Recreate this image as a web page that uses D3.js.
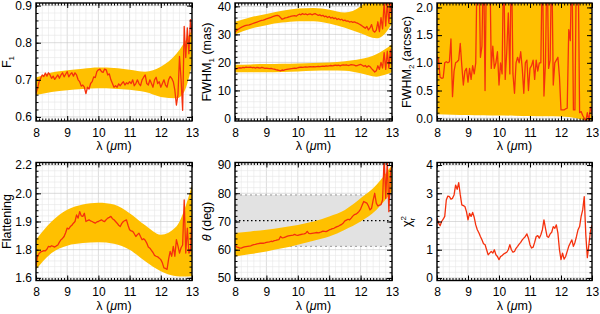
<!DOCTYPE html>
<html>
<head>
<meta charset="utf-8">
<script src="https://cdn.jsdelivr.net/npm/d3@7"></script>
<style>
  body { margin: 0; background: #fff; }
  text { font-family: "Liberation Sans", Arial, sans-serif; fill: #000; }
</style>
</head>
<body>
<svg id="chart" width="600" height="314"></svg>
<script>
// wavelength grid of the spectra (micron)
const lam = d3.range(0, 101).map(i => +(8 + i * 0.05).toFixed(2));
const bandLam = [8, 8.5, 9, 9.5, 10, 10.5, 11, 11.5, 12, 12.5, 12.75, 13];

const f1 = [0.663,0.677,0.695,0.704,0.713,0.709,0.718,0.710,0.719,0.713,
  0.704,0.710,0.701,0.707,0.713,0.704,0.713,0.719,0.708,0.715,
  0.722,0.708,0.715,0.719,0.710,0.719,0.713,0.700,0.695,0.683,
  0.686,0.680,0.663,0.680,0.675,0.690,0.695,0.708,0.706,0.722,
  0.727,0.729,0.722,0.720,0.729,0.727,0.713,0.716,0.700,0.690,
  0.680,0.684,0.680,0.689,0.684,0.690,0.695,0.686,0.692,0.689,
  0.695,0.690,0.700,0.684,0.690,0.700,0.690,0.684,0.700,0.707,
  0.713,0.690,0.686,0.700,0.690,0.680,0.700,0.707,0.690,0.695,
  0.680,0.690,0.700,0.686,0.680,0.700,0.709,0.704,0.695,0.672,
  0.632,0.660,0.763,0.700,0.618,0.844,0.760,0.840,0.770,0.862,0.825];
const f1Hi = [0.706,0.720,0.726,0.730,0.733,0.732,0.727,0.722,0.735,0.770,0.800,0.835];
const f1Lo = [0.659,0.667,0.672,0.675,0.677,0.676,0.673,0.667,0.654,0.650,0.668,0.740];

const fwhm1a = [30.8,31.3,31.8,32.2,32.5,32.8,33.0,33.2,33.3,33.4,
  33.6,33.8,34.0,34.2,34.4,34.6,34.8,35.0,35.1,35.3,
  35.5,35.7,35.9,36.1,36.3,36.5,36.7,36.8,36.6,36.0,
  35.4,35.6,35.9,36.0,36.2,36.3,36.5,36.6,36.7,36.5,
  36.9,37.2,37.0,37.4,37.1,37.3,37.0,37.2,37.3,37.0,
  37.2,37.4,37.1,36.8,37.0,36.6,36.8,36.3,36.5,36.0,
  36.4,35.8,36.1,35.6,35.9,35.3,35.6,35.2,35.4,34.9,
  35.1,34.7,34.8,34.4,34.6,34.3,34.5,34.2,34.0,33.7,
  33.4,33.0,32.6,32.2,32.8,31.6,32.3,33.5,31.3,30.8,
  31.5,34.5,31.0,36.0,32.0,41.5,33.0,41.5,34.0,41.5,36.0];
const fwhm1aHi = [34.5,36.1,37.3,38.4,39.2,39.4,38.8,37.8,40.0,48,50,52];
const fwhm1aLo = [30.0,32.0,33.3,34.2,34.7,34.7,33.9,32.4,30.4,28.6,30.0,34.0];

const fwhm1b = [17.5,17.7,18.0,18.1,18.0,18.2,18.1,18.3,18.2,18.2,
  18.3,18.1,18.2,18.0,18.2,18.1,18.0,18.2,18.1,17.9,
  18.0,17.9,17.8,17.9,17.7,17.6,17.4,17.3,17.2,17.0,
  17.3,17.2,17.4,17.5,17.6,17.7,17.8,17.9,18.0,17.9,
  18.1,18.2,18.3,18.2,18.3,18.4,18.3,18.4,18.5,18.4,
  18.5,18.4,18.5,18.6,18.5,18.6,18.7,18.6,18.8,18.7,
  18.8,18.9,18.8,18.9,19.0,18.9,19.0,18.8,19.0,19.1,
  19.0,19.1,18.9,19.0,19.2,19.1,19.0,18.8,18.9,19.1,
  19.3,19.0,18.6,18.9,18.3,18.8,18.5,17.8,17.2,16.6,
  17.0,18.8,17.5,20.0,18.0,23.5,17.5,24.0,18.0,24.5,19.0];
const fwhm1bHi = [19.2,19.3,19.4,19.5,19.6,19.8,20.0,20.4,21.2,22.9,24.5,26.5];
const fwhm1bLo = [16.5,16.5,16.5,16.6,16.8,17.0,17.1,17.0,16.1,14.9,15.5,16.5];

const fwhm2 = [1.13,1.05,0.74,0.72,0.73,1.00,1.02,1.00,1.02,1.43,
  0.39,0.85,1.00,1.02,1.05,1.35,0.95,0.60,0.85,0.90,
  0.65,0.90,0.70,0.95,0.80,1.00,3.00,3.00,1.10,1.30,
  3.00,0.50,3.00,3.00,3.00,0.90,1.30,0.90,1.00,1.20,
  0.60,1.00,0.80,3.00,0.70,1.20,1.90,0.80,3.00,0.80,
  0.45,1.00,1.10,1.00,1.20,0.90,0.45,1.00,1.05,0.50,
  0.90,0.95,1.05,0.70,1.05,0.85,1.00,1.00,3.00,0.40,
  1.00,3.00,0.90,1.05,3.00,0.60,1.00,1.05,1.10,0.75,
  0.15,0.15,0.15,0.17,0.18,1.60,1.40,3.00,0.15,0.15,
  3.00,3.00,0.10,0.12,0.05,0.00,-0.05,0.10,-0.05,0.20,0.10];
const fwhm2Hi = [3,3,3,3,3,3,3,3,3,3,3,3];
const fwhm2Lo = [0.07,0.065,0.06,0.055,0.05,0.045,0.04,0.035,0.03,0.0,-0.03,-0.03];

const flat = [1.662,1.715,1.730,1.738,1.741,1.745,1.744,1.752,1.768,1.765,
  1.771,1.768,1.764,1.770,1.775,1.790,1.803,1.810,1.820,1.840,
  1.865,1.860,1.873,1.880,1.891,1.900,1.935,1.918,1.953,1.930,
  1.927,1.944,1.900,1.905,1.909,1.903,1.900,1.895,1.891,1.898,
  1.900,1.905,1.909,1.902,1.900,1.910,1.918,1.922,1.927,1.915,
  1.909,1.900,1.891,1.880,1.873,1.890,1.900,1.905,1.909,1.880,
  1.856,1.850,1.847,1.835,1.820,1.830,1.838,1.820,1.803,1.808,
  1.800,1.785,1.764,1.758,1.746,1.735,1.720,1.715,1.712,1.705,
  1.697,1.680,1.653,1.650,1.645,1.700,1.741,1.715,1.768,1.715,
  1.803,1.770,1.732,1.760,1.775,2.015,1.732,1.865,1.732,1.745,1.918];
const flatHi = [1.803,1.900,1.962,1.990,2.000,1.990,1.944,1.880,1.830,1.874,1.960,2.094];
const flatLo = [1.644,1.732,1.771,1.785,1.789,1.782,1.750,1.688,1.635,1.609,1.607,1.609];
const flatTicks = [1.6, 1.75, 1.9, 2.05, 2.2];
const flatTickLabels = ["1.6", "1.8", "1.9", "2.0", "2.2"];

const theta = [61.8,61.0,60.8,60.6,60.6,60.8,61.0,61.1,61.2,61.3,
  61.4,61.6,61.8,61.9,62.1,62.2,62.3,62.3,62.3,62.4,
  62.6,62.7,62.8,63.0,62.9,63.2,63.3,63.5,63.6,64.7,
  64.2,64.3,64.5,64.7,64.9,65.0,65.1,65.2,65.4,65.2,
  65.1,65.3,65.4,65.5,65.6,65.8,66.5,65.8,65.7,65.8,
  65.9,66.0,66.1,66.0,66.1,66.3,66.6,66.5,66.4,66.7,
  67.0,67.2,67.5,67.6,67.9,68.2,68.4,68.7,69.0,69.5,
  70.2,70.5,70.8,70.6,71.2,71.9,72.4,72.6,73.0,73.6,
  74.4,75.8,77.1,76.8,76.5,75.5,74.1,74.7,77.6,80.0,
  76.5,75.5,75.8,76.0,77.6,93.0,78.2,91.5,73.5,87.0,90.0];
const thetaHi = [65.9,66.5,67.1,67.9,68.8,70.0,71.8,74.1,78.2,82.9,86.3,90.0];
const thetaLo = [57.6,58.5,59.4,60.5,61.8,63.2,64.7,67.1,70.0,74.1,77.2,80.6];
const thetaMean = 70.3;
const thetaRange = [61.2, 79.4];

const chi2 = [2.12,1.94,1.85,2.00,2.08,2.18,2.76,2.90,2.88,2.79,
  2.82,2.94,3.29,3.14,3.38,2.95,2.59,2.56,2.53,2.35,
  2.06,2.29,2.18,2.32,2.15,1.88,1.71,1.60,1.47,1.35,
  1.21,1.18,1.00,0.82,0.88,0.94,0.88,1.00,0.82,0.76,
  0.65,0.76,0.79,0.85,0.88,0.91,1.00,1.18,1.00,0.91,
  0.94,1.05,1.12,1.20,1.26,1.35,1.41,1.47,1.56,1.41,
  1.18,1.06,1.09,1.26,1.47,1.50,1.41,1.53,1.71,2.06,
  1.76,1.47,1.44,1.56,1.62,1.82,1.76,1.88,1.59,1.00,
  0.65,0.88,0.67,0.76,0.94,1.12,1.24,1.35,1.12,1.26,
  1.47,1.71,1.82,2.18,2.41,2.88,1.53,0.72,1.18,1.65,1.88];

const xTicks = [8, 9, 10, 11, 12, 13];

const RED = "#f5300c", GOLD = "#ffc000";
const cols = [[36, 192], [235, 392], [437, 592]];
const rows = [[3, 121], [162.5, 280.5]];
const svg = d3.select("#chart");

function band(g, x, y, hi, lo) {
  const area = d3.area()
    .x((d, i) => x(bandLam[i]))
    .y0((d, i) => y(lo[i]))
    .y1((d, i) => y(hi[i]))
    .curve(d3.curveMonotoneX);
  g.append("path").datum(bandLam).attr("d", area).attr("fill", GOLD);
}

function line(g, x, y, vals) {
  const ln = d3.line().x((d, i) => x(lam[i])).y(d => y(d));
  g.append("path").datum(vals).attr("d", ln)
    .attr("fill", "none").attr("stroke", RED).attr("stroke-width", 1.3)
    .attr("stroke-linejoin", "round");
}

function panel(o) {
  const [x0, x1] = cols[o.col], [y0, y1] = rows[o.row];
  const x = d3.scaleLinear().domain([8, 13]).range([x0, x1]);
  const y = d3.scaleLinear().domain(o.yDom).range([y1, y0]);
  const id = "clip" + o.col + o.row;
  svg.append("clipPath").attr("id", id).append("rect")
    .attr("x", x0).attr("y", y0).attr("width", x1 - x0).attr("height", y1 - y0);

  // grid
  const grid = svg.append("g").attr("stroke-width", 0.6);
  const xMinor = d3.range(8, 13.001, 0.2);
  const yMinor = d3.range(o.yTicks[0], o.yTicks[o.yTicks.length - 1] + 1e-6, o.yMinor);
  grid.selectAll(".gx").data(xMinor).join("line")
    .attr("x1", d => x(d)).attr("x2", d => x(d)).attr("y1", y0).attr("y2", y1)
    .attr("stroke", d => Math.abs(d - Math.round(d)) < 1e-6 ? "#c4c4c4" : "#e6e6e6");
  grid.selectAll(".gy").data(yMinor).join("line")
    .attr("y1", d => y(d)).attr("y2", d => y(d)).attr("x1", x0).attr("x2", x1)
    .attr("stroke", d => o.yTicks.some(t => Math.abs(t - d) < 1e-6) ? "#c4c4c4" : "#e6e6e6");

  const g = svg.append("g").attr("clip-path", `url(#${id})`);
  o.draw(g, x, y);

  // frame ticks
  const fs = 12;
  const styleAxis = a => {
    a.select(".domain").remove();
    a.selectAll("line").attr("stroke", "#000").attr("stroke-width", 1);
    a.selectAll("text").attr("font-size", fs).attr("font-family", '"Liberation Sans", Arial, sans-serif');
  };
  const xMinorTicks = d3.range(8, 13.001, 0.1);
  svg.append("g").attr("transform", `translate(0,${y1})`)
    .call(d3.axisBottom(x).tickValues(xTicks).tickSize(-5).tickPadding(7).tickFormat(d3.format("d"))).call(styleAxis);
  svg.append("g").attr("transform", `translate(0,${y1})`)
    .call(d3.axisBottom(x).tickValues(xMinorTicks).tickSize(-2.5).tickFormat("")).call(styleAxis);
  svg.append("g").attr("transform", `translate(0,${y0})`)
    .call(d3.axisTop(x).tickValues(xTicks).tickSize(-5).tickFormat("")).call(styleAxis);
  svg.append("g").attr("transform", `translate(0,${y0})`)
    .call(d3.axisTop(x).tickValues(xMinorTicks).tickSize(-2.5).tickFormat("")).call(styleAxis);

  svg.append("g").attr("transform", `translate(${x0},0)`)
    .call(d3.axisLeft(y).tickValues(o.yTicks).tickSize(-5).tickPadding(4)
      .tickFormat(o.yFmt)).call(styleAxis);
  svg.append("g").attr("transform", `translate(${x0},0)`)
    .call(d3.axisLeft(y).tickValues(yMinor).tickSize(-2.5).tickFormat("")).call(styleAxis);
  svg.append("g").attr("transform", `translate(${x1},0)`)
    .call(d3.axisRight(y).tickValues(o.yTicks).tickSize(-5).tickFormat("")).call(styleAxis);
  svg.append("g").attr("transform", `translate(${x1},0)`)
    .call(d3.axisRight(y).tickValues(yMinor).tickSize(-2.5).tickFormat("")).call(styleAxis);

  svg.append("rect").attr("x", x0).attr("y", y0).attr("width", x1 - x0).attr("height", y1 - y0)
    .attr("fill", "none").attr("stroke", "#000").attr("stroke-width", 1.4);

  // x title
  const xt = svg.append("text").attr("x", (x0 + x1) / 2).attr("y", y1 + 29)
    .attr("text-anchor", "middle").attr("font-size", 12.5);
  xt.append("tspan").text("λ (");
  xt.append("tspan").attr("font-style", "italic").text("μ");
  xt.append("tspan").text("m)");

  // y title
  const yt = svg.append("text")
    .attr("transform", `translate(${o.col * 200 + 11},${(y0 + y1) / 2}) rotate(-90)`)
    .attr("text-anchor", "middle").attr("font-size", 12.5);
  o.title(yt);
}

const sub = (t, main, s, rest) => {
  t.append("tspan").text(main);
  t.append("tspan").attr("font-size", 8).attr("dy", 3).text(s);
  t.append("tspan").attr("dy", -3).text(rest);
};

panel({ col: 0, row: 0, yDom: [0.589, 0.907], yTicks: [0.6, 0.7, 0.8, 0.9], yMinor: 0.02,
  yFmt: d3.format(".1f"),
  title: t => sub(t, "F", "1", ""),
  draw: (g, x, y) => { band(g, x, y, f1Hi, f1Lo); line(g, x, y, f1); } });

panel({ col: 1, row: 0, yDom: [-0.9, 41.2], yTicks: [0, 10, 20, 30, 40], yMinor: 2,
  yFmt: d3.format("d"),
  title: t => sub(t, "FWHM", "1", " (mas)"),
  draw: (g, x, y) => {
    band(g, x, y, fwhm1aHi, fwhm1aLo); band(g, x, y, fwhm1bHi, fwhm1bLo);
    line(g, x, y, fwhm1a); line(g, x, y, fwhm1b);
  } });

panel({ col: 2, row: 0, yDom: [-0.05, 2.08], yTicks: [0, 0.5, 1, 1.5, 2], yMinor: 0.1,
  yFmt: d3.format(".1f"),
  title: t => sub(t, "FWHM", "2", " (arcsec)"),
  draw: (g, x, y) => { band(g, x, y, fwhm2Hi, fwhm2Lo); line(g, x, y, fwhm2); } });

panel({ col: 0, row: 1, yDom: [1.586, 2.214], yTicks: flatTicks, yMinor: 0.03,
  yFmt: (d, i) => flatTickLabels[i],
  title: t => t.text("Flattening"),
  draw: (g, x, y) => { band(g, x, y, flatHi, flatLo); line(g, x, y, flat); } });

panel({ col: 1, row: 1, yDom: [49.1, 90.9], yTicks: [50, 60, 70, 80, 90], yMinor: 2,
  yFmt: d3.format("d"),
  title: t => {
    t.append("tspan").attr("font-style", "italic").text("θ");
    t.append("tspan").text(" (deg)");
  },
  draw: (g, x, y) => {
    const [x0, x1] = x.range();
    g.append("rect").attr("x", x0).attr("width", x1 - x0)
      .attr("y", y(thetaRange[1])).attr("height", y(thetaRange[0]) - y(thetaRange[1]))
      .attr("fill", "#e2e2e2");
    thetaRange.forEach(v => g.append("line").attr("x1", x0).attr("x2", x1)
      .attr("y1", y(v)).attr("y2", y(v)).attr("stroke", "#999").attr("stroke-dasharray", "2,3"));
    g.append("line").attr("x1", x0).attr("x2", x1).attr("y1", y(thetaMean)).attr("y2", y(thetaMean))
      .attr("stroke", "#000").attr("stroke-width", 1.2).attr("stroke-dasharray", "1.5,2.5");
    band(g, x, y, thetaHi, thetaLo); line(g, x, y, theta);
  } });

panel({ col: 2, row: 1, yDom: [-0.09, 4.09], yTicks: [0, 1, 2, 3, 4], yMinor: 0.2,
  yFmt: d3.format("d"),
  title: t => {
    t.append("tspan").text("χ");
    t.append("tspan").attr("font-size", 8).attr("dy", -5).text("2");
    t.append("tspan").attr("font-size", 8).attr("dx", -4.5).attr("dy", 9).text("r");
  },
  draw: (g, x, y) => { line(g, x, y, chi2); } });
</script>
</body>
</html>
